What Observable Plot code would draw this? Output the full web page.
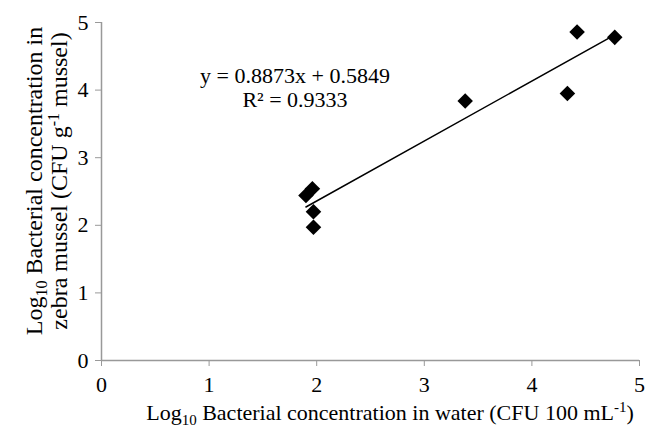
<!DOCTYPE html>
<html><head><meta charset="utf-8">
<script src="https://cdn.jsdelivr.net/npm/d3@7"></script>
<script src="https://cdn.jsdelivr.net/npm/@observablehq/plot@0.6"></script>
<style>
body{margin:0;background:#fff;}
svg{font-family:"Liberation Serif","Times New Roman",serif;}
</style></head><body><div id="chart"></div>
<script>
const xWater = [1.90, 1.96, 1.97, 1.97, 3.38, 4.33, 4.42, 4.77];
const yMussel = [2.44, 2.54, 2.20, 1.97, 3.84, 3.95, 4.86, 4.78];
const xTicks = [0, 1, 2, 3, 4, 5];
const yTicks = [0, 1, 2, 3, 4, 5];
const slope = 0.8873, intercept = 0.5849;
const eqLines = ["y = 0.8873x + 0.5849", "R² = 0.9333"];

const pts = xWater.map((x, i) => ({x, y: yMussel[i]}));
const ext = d3.extent(xWater);
const fit = ext.map(x => ({x, y: slope * x + intercept}));

const plot = Plot.plot({
  width: 654, height: 429,
  marginLeft: 101, marginRight: 15, marginTop: 22, marginBottom: 69,
  style: {fontSize: "22px", fontFamily: "Liberation Serif, serif", color: "black", background: "white"},
  x: {domain: [0, 5]},
  y: {domain: [0, 5]},
  marks: [
    Plot.ruleY([0], {stroke: "#999", strokeWidth: 1.5}),
    Plot.ruleX([0], {stroke: "#999", strokeWidth: 1.5}),
    Plot.axisX({ticks: xTicks, tickFormat: d => d, tickSize: 6, tickPadding: 10, stroke: "#999", label: null}),
    Plot.axisY({ticks: yTicks, tickFormat: d => d, tickSize: 6, tickPadding: 7, stroke: "#999", label: null}),
    Plot.line(fit, {x: "x", y: "y", stroke: "black", strokeWidth: 1.5}),
    Plot.dot(pts, {x: "x", y: "y", symbol: "diamond2", r: 7, fill: "black", stroke: "none"})
  ]
});
document.getElementById("chart").appendChild(plot);

const svg = d3.select(plot);
svg.selectAll('[aria-label="x-axis tick"], [aria-label="y-axis tick"]').attr("stroke", "#999");
svg.selectAll('[aria-label="x-axis tick label"], [aria-label="y-axis tick label"]')
  .attr("fill", "black").attr("font-size", 22);

// x axis label
const xl = svg.append("text").attr("x", 390).attr("y", 420).attr("text-anchor", "middle").attr("font-size", 22).attr("fill", "black");
xl.append("tspan").text("Log");
xl.append("tspan").attr("font-size", 15).attr("dy", 5).text("10");
xl.append("tspan").attr("dy", -5).text(" Bacterial concentration in water (CFU 100 mL");
xl.append("tspan").attr("font-size", 15).attr("dy", -8).text("-1");
xl.append("tspan").attr("dy", 8).text(")");

// y axis label
const yl = svg.append("g").attr("transform", "translate(42,181) rotate(-90)");
const y1 = yl.append("text").attr("text-anchor", "middle").attr("font-size", 24).attr("fill", "black");
y1.append("tspan").text("Log");
y1.append("tspan").attr("font-size", 16).attr("dy", 5).text("10");
y1.append("tspan").attr("dy", -5).text(" Bacterial concentration in");
const y2 = yl.append("text").attr("text-anchor", "middle").attr("y", 24.5).attr("font-size", 24).attr("fill", "black");
y2.append("tspan").text("zebra mussel (CFU g");
y2.append("tspan").attr("font-size", 16).attr("dy", -8).text("-1");
y2.append("tspan").attr("dy", 8).text(" mussel)");

// equation
eqLines.forEach((t, i) => {
  svg.append("text").attr("x", 295).attr("y", 83 + i * 24).attr("text-anchor", "middle")
    .attr("font-size", 22).attr("fill", "black").text(t);
});
</script></body></html>
